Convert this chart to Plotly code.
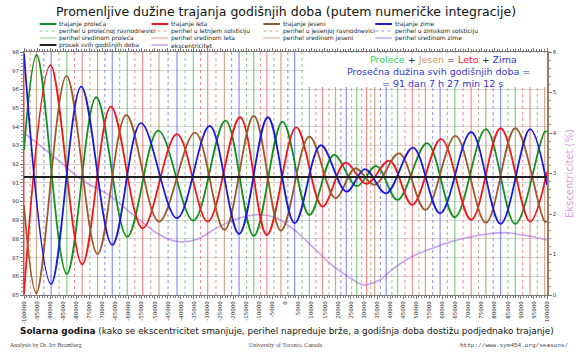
import plotly.graph_objects as go

# ---------------- data ----------------
mean_len = 91.31056  # 91 dan 7 h 27 min 12 s

green_years = [-100000, -95125, -83625, -72375, -60500, -48625, -35250, -23000, -12125, -1125,
               9125, 18500, 27250, 34750, 42875, 54125, 64750, 76625, 87875, 99125, 100000]
green_len = [92.75, 97.84, 86.13, 95.58, 88.12, 93.79, 88.98, 94.33, 88.16, 94.27,
             89.28, 92.49, 90.83, 91.90, 90.09, 93.12, 89.16, 93.87, 88.80, 93.74, 93.73]

red_years = [-100000, -89875, -77750, -66750, -54625, -41500, -29750, -17375, -7125, 4125,
             14125, 22875, 31000, 39750, 48500, 59500, 71000, 82250, 93500, 100000]
red_len = [85.05, 97.30, 86.64, 95.08, 88.57, 93.61, 88.93, 94.51, 88.21, 93.97,
           89.73, 92.08, 90.94, 92.19, 89.82, 93.35, 89.02, 93.92, 88.93, 91.60]

brown_years = [-100000, -95250, -83750, -71875, -60875, -48375, -34625, -23375, -12125, -1750,
               9125, 19125, 26625, 34125, 43500, 53500, 65000, 76625, 87875, 99125, 100000]
brown_len = [89.80, 85.10, 96.72, 87.20, 94.63, 88.93, 93.69, 88.48, 94.58, 88.44,
             93.47, 90.18, 91.78, 90.89, 92.58, 89.55, 93.51, 88.87, 93.92, 88.93, 88.94]

blue_years = [-100000, -89625, -78125, -66250, -55250, -41500, -29000, -17750, -6750, 3500,
              13500, 23250, 30375, 38500, 48750, 59125, 71000, 82250, 93500, 100000]
blue_len = [97.92, 85.59, 96.15, 87.68, 94.19, 89.11, 94.04, 88.27, 94.51, 88.84,
            93.01, 90.53, 91.73, 90.44, 92.88, 89.37, 93.72, 88.80, 93.87, 90.90]

ecc_years = [-100000, -87500, -77900, -67750, -56500, -49000, -41500, -34000, -26500, -19000,
             -11500, -4000, 3500, 11000, 18500, 26000, 29750, 36000, 41000, 48500,
             56000, 63500, 71000, 78500, 84125, 91000, 100000]
ecc_pct = [4.00, 3.36, 2.84, 2.47, 1.89, 1.52, 1.32, 1.37, 1.65, 1.87,
           1.98, 1.92, 1.60, 1.15, 0.70, 0.37, 0.25, 0.37, 0.64, 0.95,
           1.15, 1.32, 1.44, 1.52, 1.54, 1.48, 1.36]

# perihelion at mid-season (solid) and at equinox/solstice (dotted)
peri_mid_spring = [-83625, -60500, -35250, -12125, 9125, 27250, 42875, 64750, 87875]
peri_mid_summer = [-99900, -77750, -54625, -29750, -7125, 14125, 31000, 48500, 71000, 93500]
peri_mid_autumn = [-95250, -71875, -48375, -23375, -1750, 19125, 34125, 53500, 76625, 99125]
peri_mid_winter = [-89625, -66250, -41500, -17750, 3500, 23250, 38500, 59125, 82250]
peri_vernal = [-86600, -63400, -38400, -14900, 6300, 25300, 40700, 61900, 85100]
peri_summer_sol = [-80700, -57600, -32500, -9600, 11600, 29100, 45700, 67900, 90700]
peri_autumn_eq = [-97600, -74800, -51500, -26600, -4400, 16600, 32600, 51000, 73800, 96300]
peri_winter_sol = [-92400, -69100, -44900, -20600, 900, 21200, 36300, 56300, 79400]

x_ticks = list(range(-100000, 100001, 5000))
y_ticks = list(range(85, 99))
ecc_ticks = [0, 1, 2, 3, 4, 5, 6]

# ---------------- styles ----------------
GREEN, RED, BROWN, BLUE = "#14901e", "#f01818", "#9c5a2c", "#1a1ad8"
GREEN_L, RED_L, BROWN_L, BLUE_L = ("rgba(40,160,40,0.55)", "rgba(240,50,50,0.55)",
                                   "rgba(165,95,50,0.55)", "rgba(50,50,230,0.55)")
ECC = "#c8a2f0"
FONT = "DejaVu Sans"

W, H = 586, 352
ML, MR, MT, MB = 24, 29, 52, 57
PW, PH = W - ML - MR, H - MT - MB


def px_x(px):
    return (px - ML) / PW


def px_y(py):
    return (H - MB - py) / PH


def vlines(years):
    xs, ys = [], []
    for yr in years:
        xs += [yr, yr, None]
        ys += [y_ticks[0], y_ticks[-1], None]
    return xs, ys


fig = go.Figure()

# eccentricity on the primary (bottom) subplot so season curves draw above it
fig.add_trace(go.Scatter(x=ecc_years, y=ecc_pct, mode="lines", line=dict(color=ECC, width=1.6, shape="spline"),
                         yaxis="y", showlegend=False))

for yrs, col in [(peri_vernal, GREEN_L), (peri_summer_sol, RED_L), (peri_autumn_eq, BROWN_L), (peri_winter_sol, BLUE_L)]:
    xs, ys = vlines(yrs)
    fig.add_trace(go.Scatter(x=xs, y=ys, mode="lines", line=dict(color=col, width=1, dash="dot"),
                             yaxis="y2", showlegend=False))
for yrs, col in [(peri_mid_spring, GREEN_L), (peri_mid_summer, RED_L), (peri_mid_autumn, BROWN_L), (peri_mid_winter, BLUE_L)]:
    xs, ys = vlines(yrs)
    fig.add_trace(go.Scatter(x=xs, y=ys, mode="lines", line=dict(color=col, width=1.2),
                             yaxis="y2", showlegend=False))

for yrs, vals, col in [(green_years, green_len, GREEN), (red_years, red_len, RED),
                       (brown_years, brown_len, BROWN), (blue_years, blue_len, BLUE)]:
    fig.add_trace(go.Scatter(x=yrs, y=vals, mode="lines", line=dict(color=col, width=1.8, shape="spline"),
                             yaxis="y2", showlegend=False))

fig.add_trace(go.Scatter(x=[x_ticks[0], x_ticks[-1]], y=[mean_len, mean_len], mode="lines",
                         line=dict(color="#202020", width=2), yaxis="y2", showlegend=False))

shapes = []
annotations = []

# white box behind the summary text
shapes.append(dict(type="rect", xref="paper", yref="paper", x0=px_x(310), x1=px_x(556), y0=px_y(87), y1=px_y(53),
                   fillcolor="white", line=dict(width=0), layer="above"))

# manual legend
legend_items = [
    # (column, row, label, color, dash, width)
    (0, 0, "trajanje proleća", GREEN, "solid", 2),
    (0, 1, "perihel u prolećnoj ravnodnevici", GREEN_L, "dot", 1),
    (0, 2, "perihel sredinom proleća", GREEN_L, "solid", 1),
    (0, 3, "prosek svih godišnjih doba", "#202020", "solid", 2),
    (1, 0, "trajanje leta", RED, "solid", 2),
    (1, 1, "perihel u letnjem solsticiju", RED_L, "dot", 1),
    (1, 2, "perihel sredinom leta", RED_L, "solid", 1),
    (1, 3, "ekscentricitet", ECC, "solid", 1.5),
    (2, 0, "trajanje jeseni", BROWN, "solid", 2),
    (2, 1, "perihel u jesenjoj ravnodnevici", BROWN_L, "dot", 1),
    (2, 2, "perihel sredinom jeseni", BROWN_L, "solid", 1),
    (3, 0, "trajanje zime", BLUE, "solid", 2),
    (3, 1, "perihel u zimskom solsticiju", BLUE_L, "dot", 1),
    (3, 2, "perihel sredinom zime", BLUE_L, "solid", 1),
]
col_x = [40, 154, 268, 382]
row_y = [24, 31, 38, 45]
for c, r, label, col, dash, wd in legend_items:
    x0 = col_x[c]
    yy = px_y(row_y[r])
    shapes.append(dict(type="line", xref="paper", yref="paper", x0=px_x(x0), x1=px_x(x0 + 17), y0=yy, y1=yy,
                       line=dict(color=col, width=wd, dash=dash)))
    annotations.append(dict(xref="paper", yref="paper", x=px_x(x0 + 18), y=yy, text=label, showarrow=False,
                            xanchor="left", yanchor="middle", font=dict(size=6, family=FONT, color="#222")))

# title
annotations.append(dict(xref="paper", yref="paper", x=px_x(291), y=px_y(11), text=
                        "Promenljive dužine trajanja godišnjih doba (putem numeričke integracije)",
                        showarrow=False, xanchor="center", yanchor="middle",
                        font=dict(size=12.5, family=FONT, color="#111")))

# summary text
annotations.append(dict(xref="paper", yref="paper", x=px_x(452), y=px_y(60),
                        text="<span style='color:#2fd060'>Proleće</span> + <span style='color:#c89a6a'>Jesen</span>"
                             " = <span style='color:#ff2020'>Leto</span> + <span style='color:#3535d0'>Zima</span>",
                        showarrow=False, xanchor="center", yanchor="middle",
                        font=dict(size=9.5, family=FONT, color="#222")))
annotations.append(dict(xref="paper", yref="paper", x=px_x(446), y=px_y(72),
                        text="Prosečna dužina svih godišnjih doba =", showarrow=False,
                        xanchor="center", yanchor="middle", font=dict(size=9.5, family=FONT, color="#3535d0")))
annotations.append(dict(xref="paper", yref="paper", x=px_x(451), y=px_y(83),
                        text="= 91 dan 7 h 27 min 12 s", showarrow=False,
                        xanchor="center", yanchor="middle", font=dict(size=9.5, family=FONT, color="#3535d0")))

# x-axis caption and credits
annotations.append(dict(xref="paper", yref="paper", x=px_x(292), y=px_y(331),
                        text="<b>Solarna godina</b> (kako se ekscentricitet smanjuje, perihel napreduje brže, "
                             "a godišnja doba dostižu podjednako trajanje)",
                        showarrow=False, xanchor="center", yanchor="middle",
                        font=dict(size=8.9, family=FONT, color="#111")))
annotations.append(dict(xref="paper", yref="paper", x=px_x(8), y=px_y(345), text="Analysis by Dr. Irv Bromberg",
                        showarrow=False, xanchor="left", yanchor="middle",
                        font=dict(size=6, family="Liberation Serif", color="#444")))
annotations.append(dict(xref="paper", yref="paper", x=px_x(290), y=px_y(345), text="University of Toronto, Canada",
                        showarrow=False, xanchor="center", yanchor="middle",
                        font=dict(size=6, family="Liberation Serif", color="#444")))
annotations.append(dict(xref="paper", yref="paper", x=px_x(580), y=px_y(345), text="http://www.sym454.org/seasons/",
                        showarrow=False, xanchor="right", yanchor="middle",
                        font=dict(size=6, family="Liberation Mono", color="#444")))

fig.update_layout(
    width=W, height=H,
    margin=dict(l=ML, r=MR, t=MT, b=MB, pad=0),
    paper_bgcolor="white", plot_bgcolor="white",
    showlegend=False,
    font=dict(family=FONT, size=6, color="#333"),
    xaxis=dict(range=[x_ticks[0], x_ticks[-1]], tickvals=x_ticks, ticktext=[str(v) for v in x_ticks],
               tickangle=-90, tickfont=dict(size=5.5), showgrid=False, zeroline=False,
               showline=True, linecolor="#777", linewidth=1, mirror="ticks",
               ticks="outside", ticklen=3, tickcolor="#777",
               minor=dict(dtick=1000, ticks="outside", ticklen=2, tickcolor="#777")),
    yaxis=dict(range=[ecc_ticks[0], ecc_ticks[-1]], tickvals=ecc_ticks, ticksuffix="%", side="right",
               tickfont=dict(size=5.5), showgrid=False, zeroline=False,
               showline=True, linecolor="#9a7a60", linewidth=1.5,
               ticks="outside", ticklen=3, tickcolor="#777",
               minor=dict(dtick=0.2, ticks="outside", ticklen=2, tickcolor="#999"),
               title=dict(text="Ekscentricitet (%)", font=dict(size=10, color="#e39ae3", family=FONT), standoff=10)),
    yaxis2=dict(range=[y_ticks[0], y_ticks[-1]], tickvals=y_ticks, overlaying="y", side="left",
                tickfont=dict(size=5.5), showgrid=True, gridcolor="#d6d6d6", gridwidth=1, zeroline=False,
                showline=True, linecolor="#777", linewidth=1,
                ticks="outside", ticklen=3, tickcolor="#777",
                minor=dict(dtick=0.2, ticks="outside", ticklen=2, tickcolor="#999")),
    shapes=shapes,
    annotations=annotations,
)

fig.write_html("out.html")
